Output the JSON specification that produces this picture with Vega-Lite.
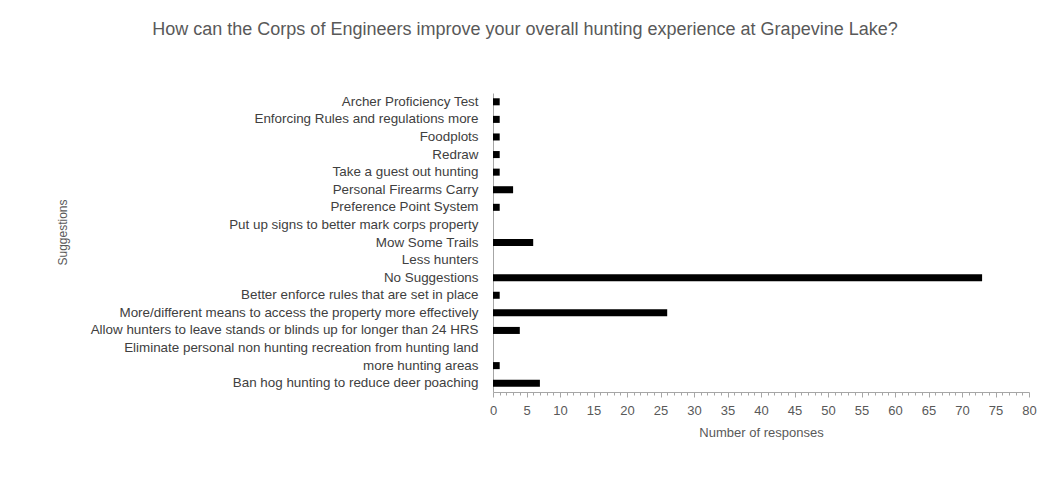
{
  "$schema": "https://vega.github.io/schema/vega-lite/v6.json",
  "autosize": "none",
  "width": 536,
  "height": 299,
  "padding": {"left": 493, "top": 93, "right": 21, "bottom": 108},
  "background": "white",
  "title": {
    "text": "How can the Corps of Engineers improve your overall hunting experience at Grapevine Lake?",
    "font": "Liberation Sans",
    "fontSize": 18,
    "fontWeight": "normal",
    "color": "#595959",
    "anchor": "middle",
    "frame": "group",
    "dx": -236,
    "offset": 54
  },
  "data": {
    "values": [
      {"suggestion": "Archer Proficiency Test", "responses": 1},
      {"suggestion": "Enforcing Rules and regulations more", "responses": 1},
      {"suggestion": "Foodplots", "responses": 1},
      {"suggestion": "Redraw", "responses": 1},
      {"suggestion": "Take a guest out hunting", "responses": 1},
      {"suggestion": "Personal Firearms Carry", "responses": 3},
      {"suggestion": "Preference Point System", "responses": 1},
      {"suggestion": "Put up signs to better mark corps property", "responses": 0},
      {"suggestion": "Mow Some Trails", "responses": 6},
      {"suggestion": "Less hunters", "responses": 0},
      {"suggestion": "No Suggestions", "responses": 73},
      {"suggestion": "Better enforce rules that are set in place", "responses": 1},
      {"suggestion": "More/different means to access the property more effectively", "responses": 26},
      {"suggestion": "Allow hunters to leave stands or blinds up for longer than 24 HRS", "responses": 4},
      {"suggestion": "Eliminate personal non hunting recreation from hunting land", "responses": 0},
      {"suggestion": "more hunting areas", "responses": 1},
      {"suggestion": "Ban hog hunting to reduce deer poaching", "responses": 7}
    ]
  },
  "mark": {"type": "bar", "color": "#000000"},
  "encoding": {
    "y": {
      "field": "suggestion",
      "type": "nominal",
      "sort": null,
      "scale": {"paddingInner": 0.6, "paddingOuter": 0.3},
      "axis": {
        "title": "Suggestions",
        "titleFont": "Liberation Sans",
        "titleFontSize": 12,
        "titleFontWeight": "normal",
        "titleColor": "#595959",
        "titleX": -431,
        "titleY": 139,
        "titleAngle": -90,
        "titleAlign": "center",
        "titleBaseline": "middle",
        "labelFont": "Liberation Sans",
        "labelFontSize": 13.4,
        "labelColor": "#404040",
        "labelPadding": 15,
        "labelLimit": 600,
        "ticks": false,
        "domainColor": "#a6a6a6",
        "domainWidth": 1
      }
    },
    "x": {
      "field": "responses",
      "type": "quantitative",
      "scale": {"domain": [0, 80], "nice": false},
      "axis": {
        "title": "Number of responses",
        "titleFont": "Liberation Sans",
        "titleFontSize": 13,
        "titleFontWeight": "normal",
        "titleColor": "#595959",
        "titlePadding": 9,
        "labelFont": "Liberation Sans",
        "labelFontSize": 13,
        "labelColor": "#595959",
        "labelPadding": 7,
        "labelFlush": false,
        "labelExpr": "datum.value % 5 === 0 ? datum.label : ''",
        "values": [0,1,2,3,4,5,6,7,8,9,10,11,12,13,14,15,16,17,18,19,20,21,22,23,24,25,26,27,28,29,30,31,32,33,34,35,36,37,38,39,40,41,42,43,44,45,46,47,48,49,50,51,52,53,54,55,56,57,58,59,60,61,62,63,64,65,66,67,68,69,70,71,72,73,74,75,76,77,78,79,80],
        "labelOverlap": false,
        "grid": false,
        "tickColor": "#a6a6a6",
        "tickSize": {"condition": {"test": "datum.value % 5 === 0", "value": 5}, "value": 3},
        "domainColor": "#a6a6a6",
        "domainWidth": 1
      }
    }
  },
  "config": {"view": {"stroke": null}}
}
